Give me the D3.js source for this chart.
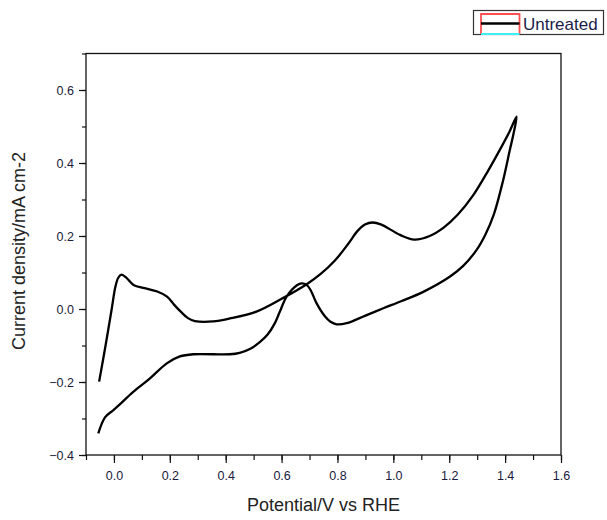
<!DOCTYPE html>
<html>
<head>
<meta charset="utf-8">
<script src="https://cdn.jsdelivr.net/npm/d3@7"></script>
<style>
  body { margin: 0; background: #fff; }
  svg { display: block; font-family: "Liberation Sans", Arial, sans-serif; }
</style>
</head>
<body>
<script>
// forward scan (anodic)
var fwdPotential = [-0.053, -0.03, -0.008, 0.005, 0.015, 0.027, 0.045, 0.07, 0.11, 0.155, 0.19, 0.215, 0.24, 0.265, 0.29, 0.355, 0.415, 0.51, 0.6, 0.69, 0.74, 0.79, 0.84, 0.872, 0.9, 0.925, 0.955, 1.024, 1.075, 1.13, 1.18, 1.23, 1.286, 1.34, 1.381, 1.415, 1.441];
var fwdCurrent = [-0.199, -0.1, 0.0, 0.06, 0.085, 0.094, 0.085, 0.066, 0.057, 0.048, 0.034, 0.012, -0.008, -0.025, -0.033, -0.034, -0.026, -0.007, 0.028, 0.068, 0.096, 0.132, 0.18, 0.214, 0.232, 0.237, 0.232, 0.203, 0.19, 0.2, 0.223, 0.258, 0.312, 0.38, 0.436, 0.485, 0.527];

// reverse scan (cathodic)
var revPotential = [1.441, 1.43, 1.417, 1.393, 1.36, 1.33, 1.298, 1.25, 1.203, 1.107, 1.03, 0.964, 0.9, 0.833, 0.797, 0.775, 0.755, 0.725, 0.705, 0.69, 0.672, 0.655, 0.618, 0.594, 0.575, 0.55, 0.523, 0.49, 0.45, 0.415, 0.284, 0.236, 0.189, 0.129, 0.069, 0.02, -0.002, -0.032, -0.056];
var revCurrent = [0.527, 0.48, 0.436, 0.353, 0.26, 0.205, 0.162, 0.118, 0.089, 0.047, 0.022, 0.002, -0.018, -0.039, -0.042, -0.035, -0.02, 0.016, 0.05, 0.066, 0.07, 0.065, 0.034, -0.007, -0.04, -0.07, -0.09, -0.108, -0.12, -0.124, -0.124, -0.13, -0.149, -0.19, -0.227, -0.262, -0.277, -0.297, -0.341];

var xTicks = [0.0, 0.2, 0.4, 0.6, 0.8, 1.0, 1.2, 1.4, 1.6];
var yTicks = [-0.4, -0.2, 0.0, 0.2, 0.4, 0.6];
var seriesName = "Untreated";

var width = 607;
var height = 520;

var svg = d3.select("body")
  .append("svg")
  .attr("width", width)
  .attr("height", height);

// plot frame
var frame = { left: 86, right: 561, top: 53.5, bottom: 455 };

var xScale = d3.scaleLinear()
  .domain([-0.1, 1.6])
  .range([frame.left, frame.right]);

var yScale = d3.scaleLinear()
  .domain([-0.4, 0.7])
  .range([frame.bottom, frame.top]);

var tickColor = "#1a1a3c";

// minor ticks every 0.1
var xMinor = d3.range(-1, 17).map(function (d) { return d / 10; });
var yMinor = d3.range(-4, 8).map(function (d) { return d / 10; });

svg.append("g")
  .attr("transform", "translate(0," + frame.bottom + ")")
  .call(d3.axisBottom(xScale).tickValues(xMinor).tickSize(5).tickFormat(""))
  .call(function (g) { g.select(".domain").remove(); });

svg.append("g")
  .attr("transform", "translate(" + frame.left + ",0)")
  .call(d3.axisLeft(yScale).tickValues(yMinor).tickSize(4).tickFormat(""))
  .call(function (g) { g.select(".domain").remove(); });

// major ticks with labels
var xAxis = svg.append("g")
  .attr("transform", "translate(0," + frame.bottom + ")")
  .call(d3.axisBottom(xScale).tickValues(xTicks).tickSize(8).tickPadding(8).tickFormat(d3.format(".1f")));
xAxis.select(".domain").remove();

var yAxis = svg.append("g")
  .attr("transform", "translate(" + frame.left + ",0)")
  .call(d3.axisLeft(yScale).tickValues(yTicks).tickSize(7).tickPadding(5).tickFormat(d3.format(".1f")));
yAxis.select(".domain").remove();

svg.selectAll(".tick line")
  .attr("stroke", "#111")
  .attr("stroke-width", 1.2);

svg.selectAll(".tick text")
  .attr("fill", tickColor)
  .style("font-size", "12.5px")
  .style("font-family", "'Liberation Sans', Arial, sans-serif");

// box around plot
svg.append("rect")
  .attr("x", frame.left)
  .attr("y", frame.top)
  .attr("width", frame.right - frame.left)
  .attr("height", frame.bottom - frame.top)
  .attr("fill", "none")
  .attr("stroke", "#111")
  .attr("stroke-width", 1.3);

// cv loop
var loopPotential = fwdPotential.concat(revPotential.slice(1));
var loopCurrent = fwdCurrent.concat(revCurrent.slice(1));
var points = loopPotential.map(function (p, i) { return [p, loopCurrent[i]]; });

var line = d3.line()
  .x(function (d) { return xScale(d[0]); })
  .y(function (d) { return yScale(d[1]); })
  .curve(d3.curveCatmullRom.alpha(0.5));

svg.append("path")
  .datum(points)
  .attr("d", line)
  .attr("fill", "none")
  .attr("stroke", "#000")
  .attr("stroke-width", 2.3)
  .attr("stroke-linejoin", "round");

// axis titles
svg.append("text")
  .attr("x", (frame.left + frame.right) / 2)
  .attr("y", 511)
  .attr("text-anchor", "middle")
  .attr("fill", "#222")
  .style("font-size", "18px")
  .text("Potential/V vs RHE");

svg.append("text")
  .attr("transform", "translate(25," + 251 + ") rotate(-90)")
  .attr("text-anchor", "middle")
  .attr("fill", "#222")
  .style("font-size", "18px")
  .text("Current density/mA cm-2");

// legend
var legend = svg.append("g");
legend.append("rect")
  .attr("x", 473.5).attr("y", 10.5)
  .attr("width", 130).attr("height", 24)
  .attr("fill", "#fff")
  .attr("stroke", "#333")
  .attr("stroke-width", 1.2);
legend.append("path")
  .attr("d", "M481,34V14H519.5V34")
  .attr("fill", "none")
  .attr("stroke", "#ff5050")
  .attr("stroke-width", 1.8);
legend.append("line")
  .attr("x1", 481).attr("x2", 519.5)
  .attr("y1", 34).attr("y2", 34)
  .attr("stroke", "#40f0f0")
  .attr("stroke-width", 1.8);
legend.append("line")
  .attr("x1", 481).attr("x2", 519.5)
  .attr("y1", 23.5).attr("y2", 23.5)
  .attr("stroke", "#000")
  .attr("stroke-width", 2.6);
legend.append("text")
  .attr("x", 523)
  .attr("y", 29.5)
  .attr("fill", "#1c1c4a")
  .style("font-size", "17px")
  .text(seriesName);
</script>
</body>
</html>
